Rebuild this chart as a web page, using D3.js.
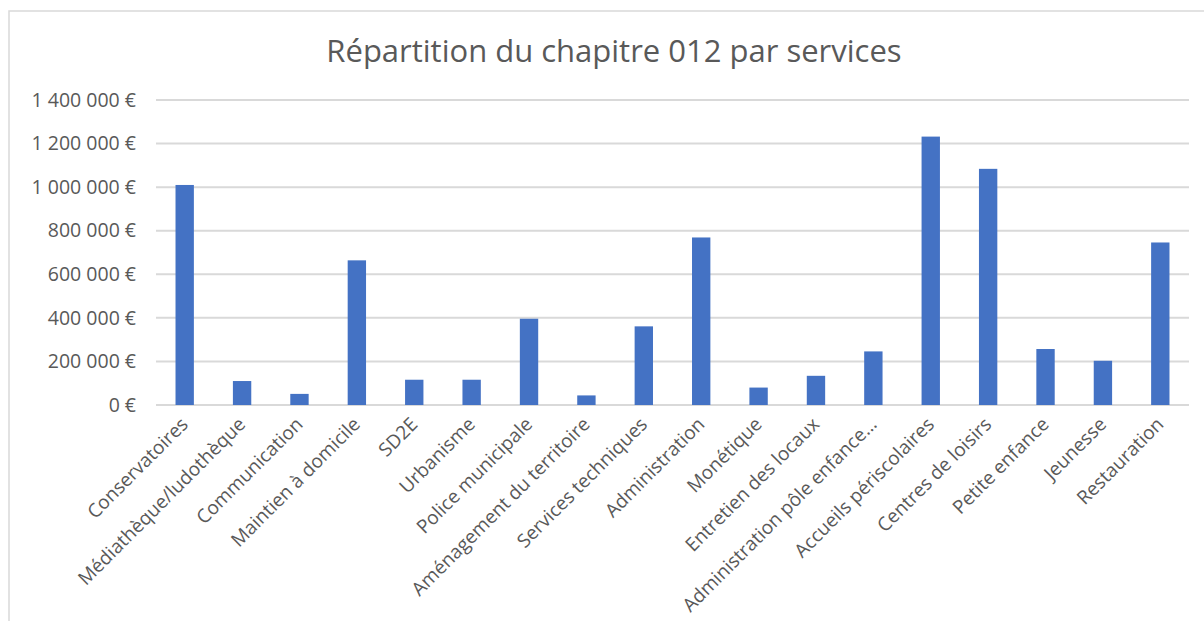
<!DOCTYPE html>
<html>
<head>
<meta charset="utf-8">
<script src="https://cdn.jsdelivr.net/npm/d3@7"></script>
<style>
  body { margin: 0; background: #fff; }
  svg { display: block; font-family: "Open Sans", sans-serif; }
</style>
</head>
<body>
<script>
// Chart data
var services = ["Conservatoires", "Médiathèque/ludothèque", "Communication", "Maintien à domicile",
                "SD2E", "Urbanisme", "Police municipale", "Aménagement du territoire",
                "Services techniques", "Administration", "Monétique", "Entretien des locaux",
                "Administration pôle enfance…", "Accueils périscolaires", "Centres de loisirs",
                "Petite enfance", "Jeunesse", "Restauration"];
var montants = [1010000, 110000, 51000, 664000, 116000, 116000, 396000, 44000, 361000,
                769000, 80000, 134000, 246000, 1232000, 1084000, 257000, 203000, 746000];
var yTicks = [0, 200000, 400000, 600000, 800000, 1000000, 1200000, 1400000];
var title = "Répartition du chapitre 012 par services";

var w = 1204, h = 621;
var margin = {top: 100, left: 156, right: 15, bottom: 216};

var svg = d3.select("body").append("svg")
            .attr("width", w)
            .attr("height", h);

// chart frame (goes past the right/bottom edge like the screenshot)
svg.append("rect")
   .attr("x", 9).attr("y", 11)
   .attr("width", 1250).attr("height", 700)
   .attr("fill", "#fff")
   .attr("stroke", "#d9d9d9")
   .attr("stroke-width", 1.5);

var x = d3.scaleBand()
          .domain(services)
          .range([margin.left, w - margin.right])
          .padding(0);

var y = d3.scaleLinear()
          .domain([0, 1400000])
          .range([h - margin.bottom, margin.top]);

var fr = d3.formatLocale({decimal: ",", thousands: "\u00a0", grouping: [3], currency: ["", "\u00a0€"]});
var fmt = fr.format("$,.0f");

// gridlines
svg.append("g")
   .selectAll("line")
   .data(yTicks)
   .enter()
   .append("line")
   .attr("x1", margin.left)
   .attr("x2", w - margin.right)
   .attr("y1", d => y(d))
   .attr("y2", d => y(d))
   .attr("stroke", "#d9d9d9")
   .attr("stroke-width", 2);

// y axis labels
var yAxis = d3.axisLeft(y).tickValues(yTicks).tickFormat(fmt).tickSize(0).tickPadding(20);
var gy = svg.append("g")
            .attr("transform", "translate(" + margin.left + ",0)")
            .call(yAxis)
            .attr("font-family", null)
            .attr("font-size", null);
gy.select(".domain").remove();
gy.selectAll("text")
  .attr("fill", "#595959")
  .style("font-family", "'Open Sans', sans-serif")
  .style("font-size", "19.5px");

// bars
var barW = x.bandwidth() * 0.32;
svg.append("g")
   .selectAll("rect")
   .data(services)
   .enter()
   .append("rect")
   .attr("x", (d) => x(d) + (x.bandwidth() - barW) / 2)
   .attr("y", (d, i) => y(montants[i]))
   .attr("width", barW)
   .attr("height", (d, i) => y(0) - y(montants[i]))
   .attr("fill", "#4472c4");

// category labels, rotated
svg.append("g")
   .selectAll("text")
   .data(services)
   .enter()
   .append("text")
   .attr("transform", d => "translate(" + (x(d) + x.bandwidth() / 2 - 5) + "," + (y(0) + 11) + ") rotate(-45)")
   .attr("text-anchor", "end")
   .attr("dy", "0.71em")
   .attr("fill", "#595959")
   .style("font-size", "19px")
   .text(d => d);

// title
svg.append("text")
   .attr("x", 614)
   .attr("y", 62)
   .attr("text-anchor", "middle")
   .attr("fill", "#595959")
   .style("font-size", "31px")
   .text(title);
</script>
</body>
</html>
